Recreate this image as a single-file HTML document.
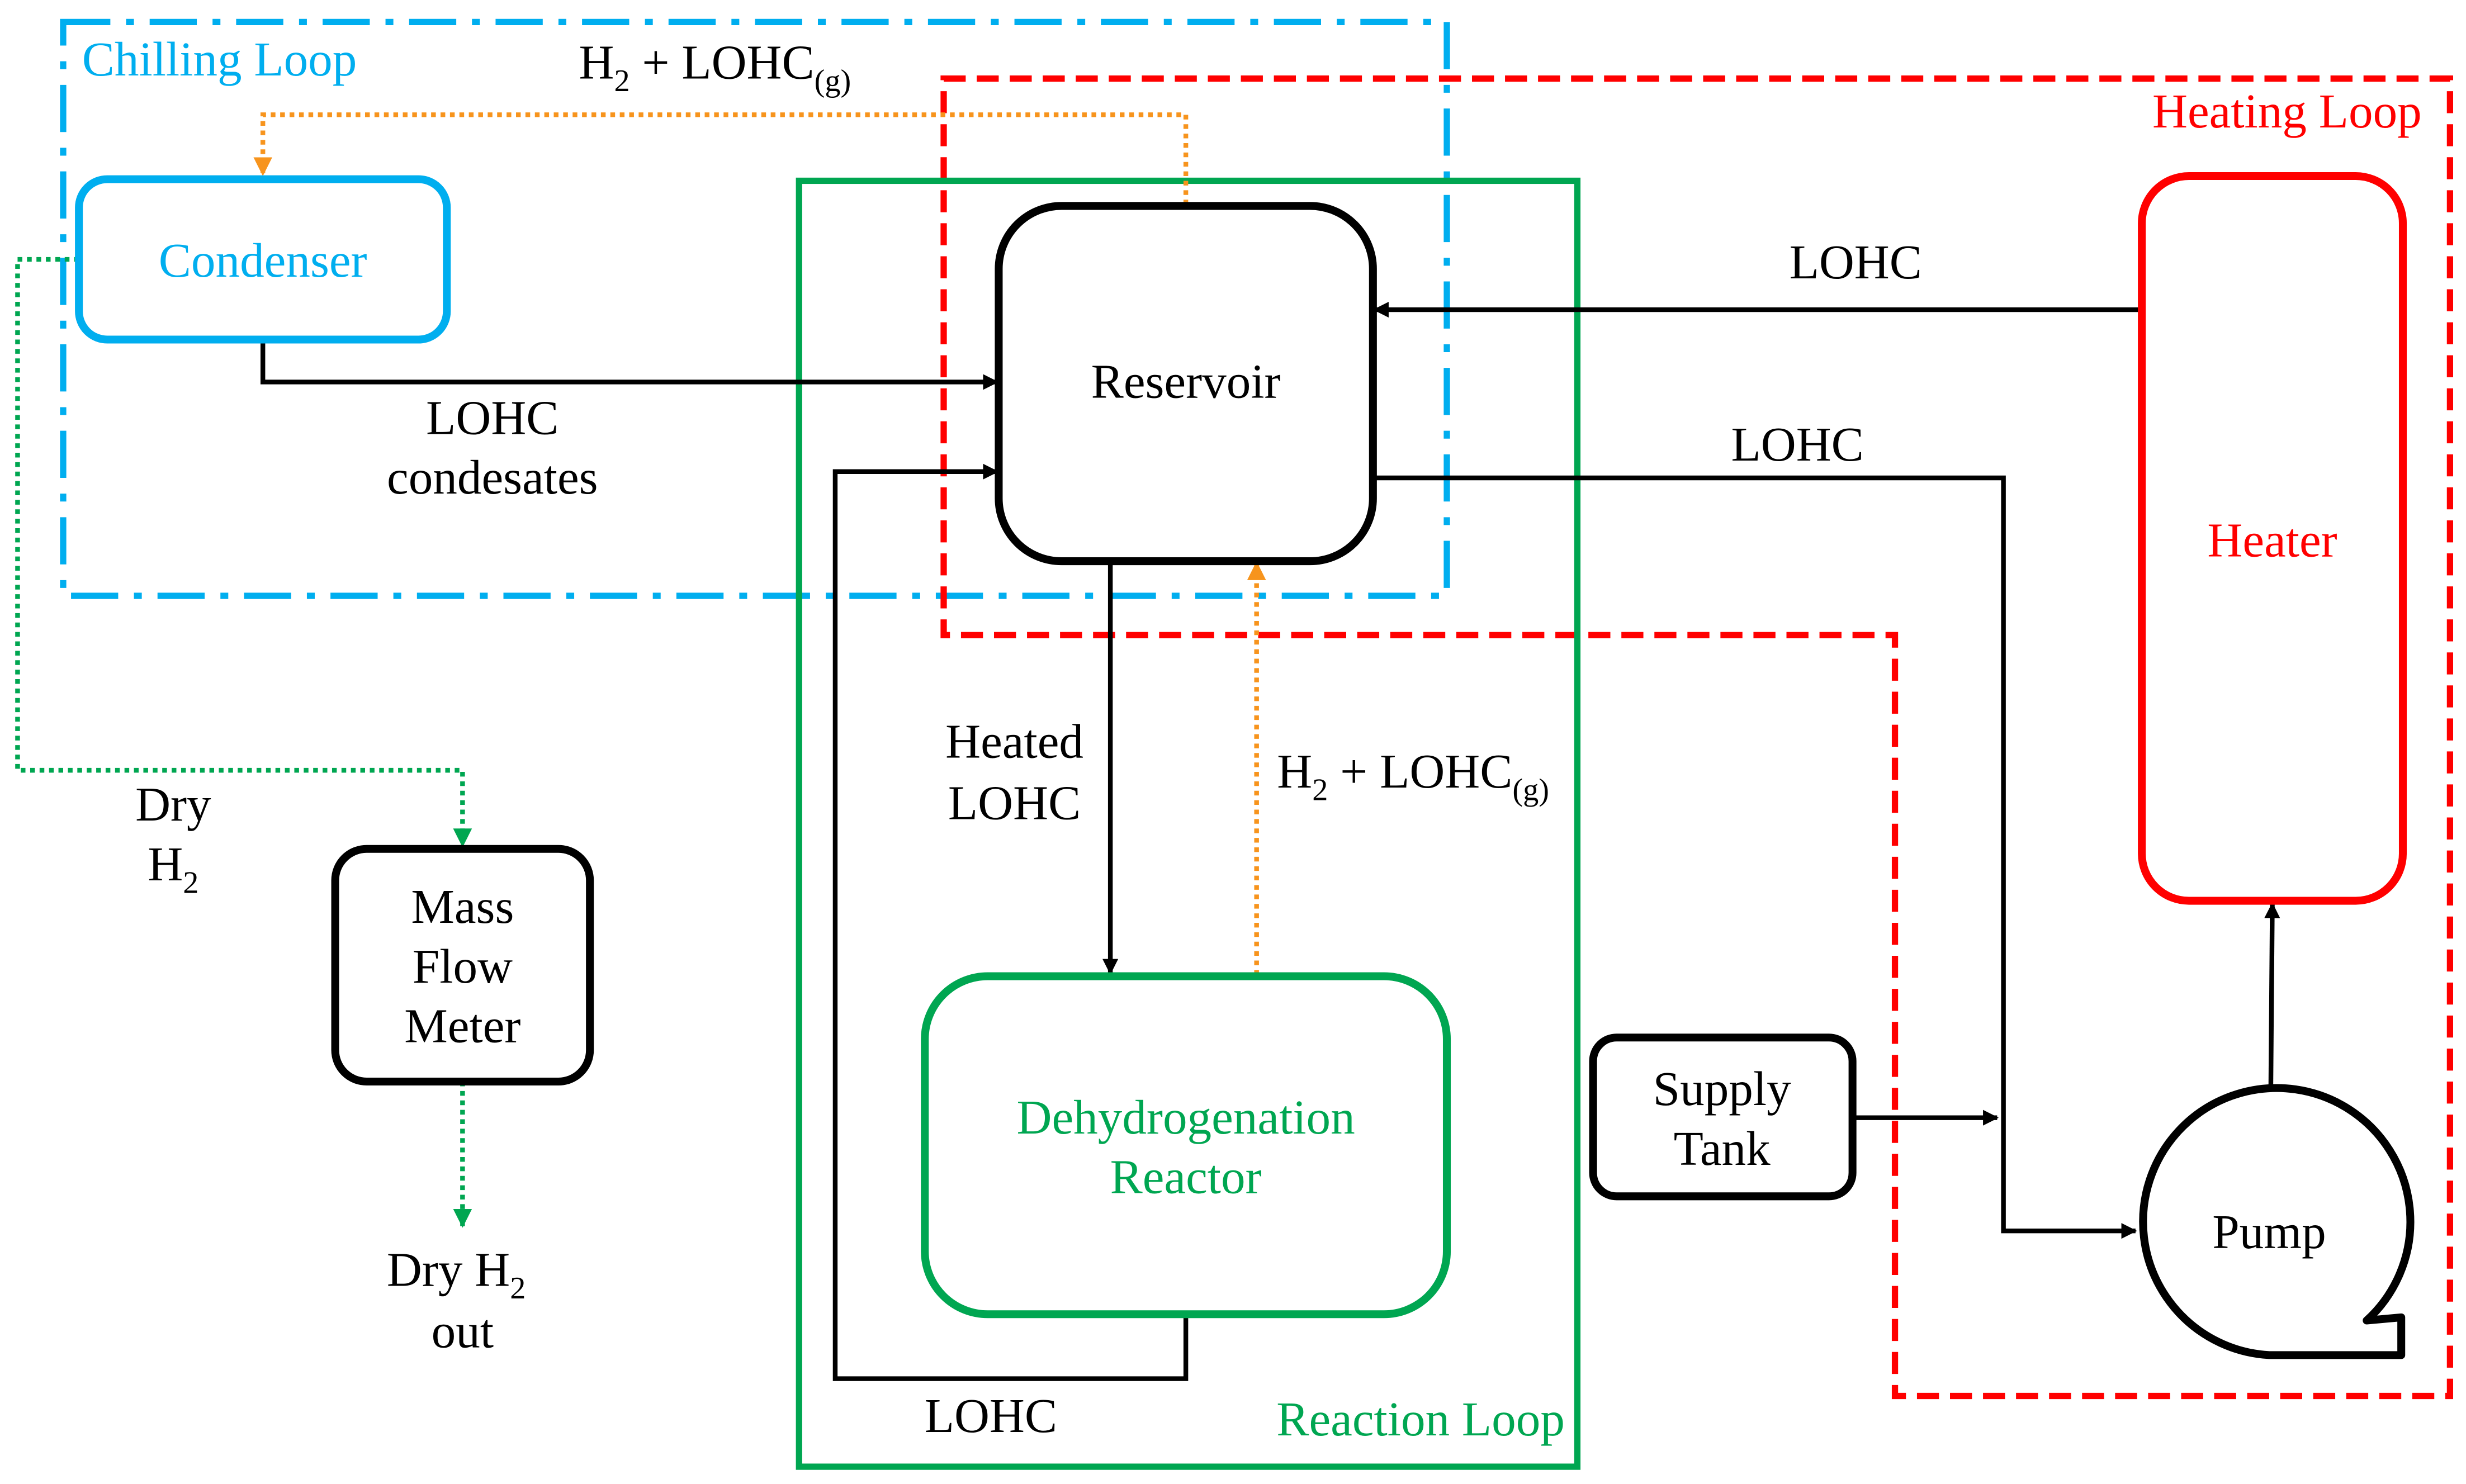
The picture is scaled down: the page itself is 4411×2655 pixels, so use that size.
<!DOCTYPE html>
<html><head><meta charset="utf-8"><style>
html,body{margin:0;padding:0;background:#fff;}
svg{display:block;}
text{font-family:"Liberation Serif",serif;font-size:31px;}
</style></head><body>
<svg width="4411" height="2655" viewBox="0 0 1568 944" xmlns="http://www.w3.org/2000/svg">
<defs>
<marker id="ak" markerWidth="10" markerHeight="10" refX="9" refY="5" orient="auto" markerUnits="userSpaceOnUse"><path d="M0,0 L10,5 L0,10 z" fill="#000"/></marker>
<marker id="ao" markerWidth="12" markerHeight="12" refX="11" refY="6" orient="auto" markerUnits="userSpaceOnUse"><path d="M0,0 L12,6 L0,12 z" fill="#f7941d"/></marker>
<marker id="ag" markerWidth="12" markerHeight="12" refX="11" refY="6" orient="auto" markerUnits="userSpaceOnUse"><path d="M0,0 L12,6 L0,12 z" fill="#00a651"/></marker>
</defs>
<rect width="1568" height="944" fill="#fff"/>
<!-- loops -->
<rect x="40" y="14" width="880" height="365" fill="none" stroke="#00aeef" stroke-width="4" stroke-dasharray="30,10,5,10"/>
<text x="52" y="48" fill="#00aeef">Chilling Loop</text>
<path d="M600,50 H1558 V888 H1205 V404 H600 Z" fill="none" stroke="#ff0000" stroke-width="4" stroke-dasharray="14,7"/>
<text x="1540" y="81" fill="#ff0000" text-anchor="end">Heating Loop</text>
<rect x="508" y="115" width="495" height="818" fill="none" stroke="#00a651" stroke-width="4"/>
<text x="995" y="913" fill="#00a651" text-anchor="end">Reaction Loop</text>
<!-- connectors -->
<path d="M754,130 V73 H167 V111" fill="none" stroke="#f7941d" stroke-width="3" stroke-dasharray="3,3" marker-end="url(#ao)"/>
<text x="368" y="50">H<tspan font-size="20" dy="8">2</tspan><tspan dy="-8"> + LOHC</tspan><tspan font-size="20" dy="8">(g)</tspan></text>
<path d="M167,216 V243 H634" fill="none" stroke="#000" stroke-width="3" marker-end="url(#ak)"/>
<text x="313" y="276" text-anchor="middle">LOHC</text>
<text x="313" y="314" text-anchor="middle">condesates</text>
<path d="M754,836 V877 H531 V300 H634" fill="none" stroke="#000" stroke-width="3" marker-end="url(#ak)"/>
<text x="630" y="911" text-anchor="middle">LOHC</text>
<path d="M706,357 V619" fill="none" stroke="#000" stroke-width="3" marker-end="url(#ak)"/>
<text x="645" y="482" text-anchor="middle">Heated</text>
<text x="645" y="521" text-anchor="middle">LOHC</text>
<path d="M799,620 V358" fill="none" stroke="#f7941d" stroke-width="3" stroke-dasharray="3,3" marker-end="url(#ao)"/>
<text x="812" y="501">H<tspan font-size="20" dy="8">2</tspan><tspan dy="-8"> + LOHC</tspan><tspan font-size="20" dy="8">(g)</tspan></text>
<path d="M1362,197 H874" fill="none" stroke="#000" stroke-width="3" marker-end="url(#ak)"/>
<text x="1180" y="177" text-anchor="middle">LOHC</text>
<path d="M873,304 H1274 V783 H1358" fill="none" stroke="#000" stroke-width="3" marker-end="url(#ak)"/>
<text x="1143" y="293" text-anchor="middle">LOHC</text>
<path d="M1178,711 H1270" fill="none" stroke="#000" stroke-width="3" marker-end="url(#ak)"/>
<path d="M1444,698 L1445,575" fill="none" stroke="#000" stroke-width="3" marker-end="url(#ak)"/>
<path d="M50,165 H11 V490 H294 V538" fill="none" stroke="#00a651" stroke-width="3" stroke-dasharray="3,3" marker-end="url(#ag)"/>
<text x="110" y="522" text-anchor="middle">Dry</text>
<text x="110" y="560" text-anchor="middle">H<tspan font-size="20" dy="8">2</tspan></text>
<path d="M294,688 V780" fill="none" stroke="#00a651" stroke-width="3" stroke-dasharray="3,3" marker-end="url(#ag)"/>
<text x="290" y="818" text-anchor="middle">Dry H<tspan font-size="20" dy="8">2</tspan></text>
<text x="294" y="857" text-anchor="middle">out</text>
<!-- nodes -->
<rect x="50" y="114" width="234" height="102" rx="18" fill="#fff" stroke="#00aeef" stroke-width="5"/>
<text x="167" y="176" fill="#00aeef" text-anchor="middle">Condenser</text>
<rect x="635" y="131" width="238" height="226" rx="40" fill="#fff" stroke="#000" stroke-width="5"/>
<text x="754" y="253" text-anchor="middle">Reservoir</text>
<rect x="1362" y="112" width="166" height="461" rx="30" fill="#fff" stroke="#ff0000" stroke-width="5"/>
<text x="1445" y="354" fill="#ff0000" text-anchor="middle">Heater</text>
<rect x="588" y="621" width="332" height="215" rx="40" fill="#fff" stroke="#00a651" stroke-width="5"/>
<text x="754" y="721" fill="#00a651" text-anchor="middle">Dehydrogenation</text>
<text x="754" y="759" fill="#00a651" text-anchor="middle">Reactor</text>
<rect x="213" y="540" width="162" height="148" rx="20" fill="#fff" stroke="#000" stroke-width="5"/>
<text x="294" y="587" text-anchor="middle">Mass</text>
<text x="294" y="625" text-anchor="middle">Flow</text>
<text x="294" y="663" text-anchor="middle">Meter</text>
<rect x="1013" y="660" width="165" height="101" rx="15" fill="#fff" stroke="#000" stroke-width="5"/>
<text x="1095" y="703" text-anchor="middle">Supply</text>
<text x="1095" y="741" text-anchor="middle">Tank</text>
<path d="M1505,840 A85,85 0 1 0 1443,862 H1527 V838 Z" fill="#fff" stroke="#000" stroke-width="5" stroke-linejoin="round"/>
<text x="1443" y="794" text-anchor="middle">Pump</text>
</svg>
</body></html>
